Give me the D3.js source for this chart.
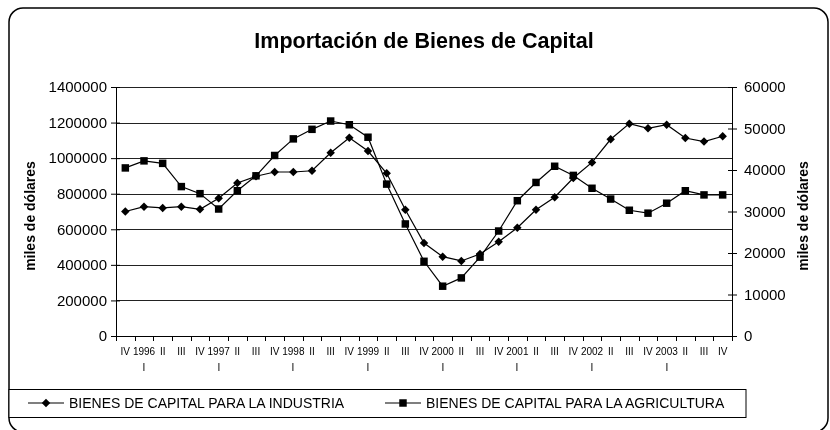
<!DOCTYPE html>
<html>
<head>
<meta charset="utf-8">
<script src="https://cdn.jsdelivr.net/npm/d3@7"></script>
<style>
  body { margin: 0; background: #fff; }
  svg { will-change: transform; }
  text { font-family: Arial, "Liberation Sans", sans-serif; fill: #000; }
</style>
</head>
<body>
<div id="chart"></div>
<script>
// categorias (trimestres), el año va en la primera línea
const categories = ["IV", "1996 I", "II", "III", "IV", "1997 I", "II", "III", "IV",
  "1998 I", "II", "III", "IV", "1999 I", "II", "III", "IV", "2000 I", "II", "III", "IV",
  "2001 I", "II", "III", "IV", "2002 I", "II", "III", "IV", "2003 I", "II", "III", "IV"]

// miles de dólares (eje izquierdo)
const industria = [700000, 727000, 720000, 727000, 712000, 774000, 860000, 898000, 922000,
  922000, 929000, 1030000, 1115000, 1040000, 915000, 710000, 523000, 446000, 422000, 461000,
  530000, 609000, 710000, 780000, 888000, 976000, 1106000, 1194000, 1168000, 1188000,
  1113000, 1093000, 1123000]

// miles de dólares (eje derecho)
const agricultura = [40500, 42200, 41600, 36000, 34300, 30600, 35000, 38600, 43500,
  47500, 49800, 51800, 50900, 47900, 36600, 27000, 18000, 12000, 14000, 19000,
  25300, 32600, 37000, 40900, 38700, 35600, 33000, 30300, 29600, 32000, 35000, 34000, 34000]

const leftTicks = [0, 200000, 400000, 600000, 800000, 1000000, 1200000, 1400000]
const rightTicks = [0, 10000, 20000, 30000, 40000, 50000, 60000]

const width = 830
const height = 430
const plot = { left: 116, right: 732, top: 87, bottom: 336 }

const svg = d3.select("#chart").append("svg")
  .attr("width", width)
  .attr("height", height)

// marco exterior
svg.append("rect")
  .attr("x", 9).attr("y", 8)
  .attr("width", 819).attr("height", 424)
  .attr("rx", 14)
  .attr("fill", "#fff")
  .attr("stroke", "#000")
  .attr("stroke-width", 1.5)

svg.append("text")
  .attr("x", 424).attr("y", 48)
  .attr("text-anchor", "middle")
  .attr("font-size", 21.5)
  .attr("font-weight", "bold")
  .text("Importación de Bienes de Capital")

// escalas
const x = d3.scaleBand().domain(d3.range(categories.length))
  .range([plot.left, plot.right]).padding(0)
const yL = d3.scaleLinear().domain([0, 1400000]).range([plot.bottom, plot.top])
const yR = d3.scaleLinear().domain([0, 60000]).range([plot.bottom, plot.top])

// líneas de cuadrícula
svg.append("g").selectAll("line").data(leftTicks.slice(1)).enter()
  .append("line")
  .attr("x1", plot.left).attr("x2", plot.right)
  .attr("y1", d => Math.round(yL(d)) + 0.5).attr("y2", d => Math.round(yL(d)) + 0.5)
  .attr("stroke", "#222").attr("stroke-width", 1)

// eje izquierdo
const yAxisL = svg.append("g")
  .attr("transform", `translate(${plot.left},0)`)
  .call(d3.axisLeft(yL).tickValues(leftTicks).tickFormat(d3.format("d")).tickSize(5).tickPadding(4))
yAxisL.selectAll(".tick line").attr("x2", -5).attr("x1", 4)
yAxisL.selectAll("text").attr("font-size", 15).attr("font-family", "Arial, 'Liberation Sans', sans-serif")

// eje derecho
const yAxisR = svg.append("g")
  .attr("transform", `translate(${plot.right},0)`)
  .call(d3.axisRight(yR).tickValues(rightTicks).tickFormat(d3.format("d")).tickSize(5).tickPadding(7))
yAxisR.selectAll(".tick line").attr("x1", -4).attr("x2", 5)
yAxisR.selectAll("text").attr("font-size", 15).attr("font-family", "Arial, 'Liberation Sans', sans-serif")

svg.selectAll(".domain").attr("stroke", "#000")
svg.selectAll(".tick line").attr("stroke", "#000")

// eje x
const xAxisGroup = svg.append("g")
svg.append("line")
  .attr("x1", plot.left).attr("x2", plot.right)
  .attr("y1", plot.bottom + 0.5).attr("y2", plot.bottom + 0.5)
  .attr("stroke", "#000")
xAxisGroup.selectAll("line").data(d3.range(categories.length + 1)).enter()
  .append("line")
  .attr("x1", d => Math.round(plot.left + d * x.step()) + 0.5)
  .attr("x2", d => Math.round(plot.left + d * x.step()) + 0.5)
  .attr("y1", plot.bottom).attr("y2", plot.bottom + 5)
  .attr("stroke", "#000")

const xLabels = xAxisGroup.selectAll("text").data(categories).enter()
  .append("text")
  .attr("text-anchor", "middle")
  .attr("font-size", 10)
  .attr("x", (d, i) => x(i) + x.bandwidth() / 2)
xLabels.each(function(d) {
  const parts = d.split(" ")
  const t = d3.select(this)
  const px = +t.attr("x")
  t.append("tspan").attr("x", px).attr("y", 355).text(parts[0])
  if (parts.length > 1) t.append("tspan").attr("x", Math.round(px)).attr("y", 371).text(parts[1])
})

// títulos de ejes
svg.append("text")
  .attr("transform", "translate(35,216) rotate(-90)")
  .attr("text-anchor", "middle")
  .attr("font-size", 14).attr("font-weight", "bold")
  .text("miles de dólares")
svg.append("text")
  .attr("transform", "translate(808,216) rotate(-90)")
  .attr("text-anchor", "middle")
  .attr("font-size", 14).attr("font-weight", "bold")
  .text("miles de dólares")

// series
const cx = i => x(i) + x.bandwidth() / 2
const diamond = d3.symbol().type(d3.symbolDiamond2).size(46)
const square = d3.symbol().type(d3.symbolSquare).size(56)

svg.append("path").datum(industria)
  .attr("fill", "none").attr("stroke", "#000").attr("stroke-width", 1.2)
  .attr("d", d3.line().x((d, i) => cx(i)).y(d => yL(d)))
svg.append("path").datum(agricultura)
  .attr("fill", "none").attr("stroke", "#000").attr("stroke-width", 1.2)
  .attr("d", d3.line().x((d, i) => cx(i)).y(d => yR(d)))

svg.append("g").selectAll("path").data(industria).enter()
  .append("path")
  .attr("d", diamond)
  .attr("transform", (d, i) => `translate(${cx(i)},${yL(d)})`)
  .attr("fill", "#000")
svg.append("g").selectAll("path").data(agricultura).enter()
  .append("path")
  .attr("d", square)
  .attr("transform", (d, i) => `translate(${cx(i)},${yR(d)})`)
  .attr("fill", "#000")

// leyenda
svg.append("rect")
  .attr("x", 9).attr("y", 389.5)
  .attr("width", 737).attr("height", 28)
  .attr("fill", "#fff").attr("stroke", "#000").attr("stroke-width", 1)

const legend = [
  { name: "BIENES DE CAPITAL PARA LA INDUSTRIA", sym: diamond, x0: 28 },
  { name: "BIENES DE CAPITAL PARA LA AGRICULTURA", sym: square, x0: 385 }
]
const lg = svg.append("g").selectAll("g").data(legend).enter().append("g")
  .attr("transform", d => `translate(${d.x0},403)`)
lg.append("line").attr("x1", 0).attr("x2", 36).attr("stroke", "#000").attr("stroke-width", 1.2)
lg.append("path").attr("d", d => d.sym()).attr("transform", "translate(18,0)").attr("fill", "#000")
lg.append("text").attr("x", 41).attr("y", 5).attr("font-size", 14).text(d => d.name)
</script>
</body>
</html>
